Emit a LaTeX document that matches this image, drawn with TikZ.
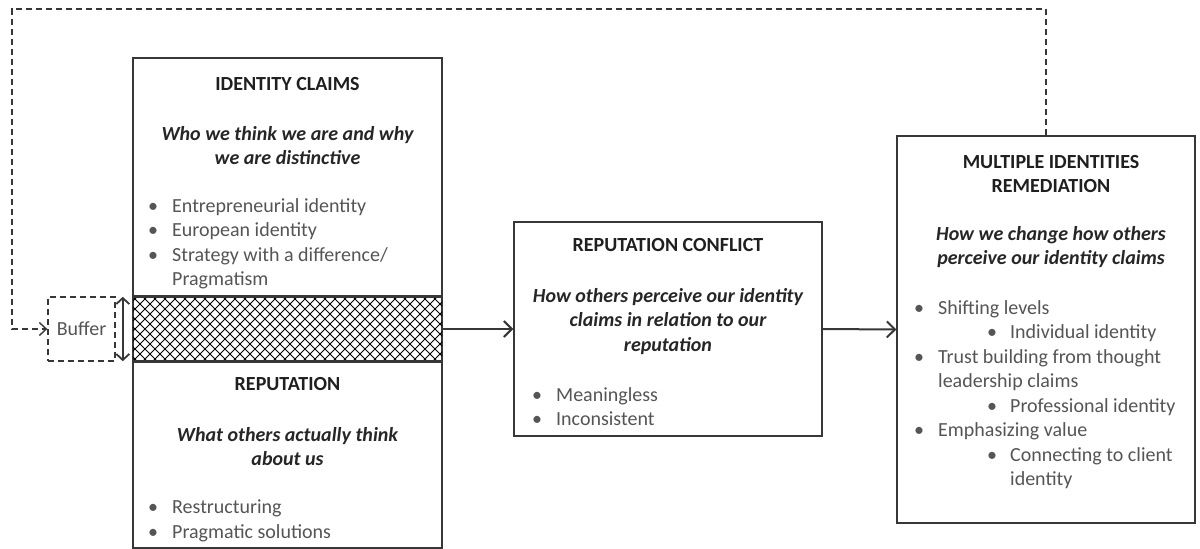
\documentclass[tikz,border=0pt]{standalone}
\usepackage{fontspec}
\setmainfont{Carlito}
\usetikzlibrary{arrows.meta,positioning,calc}
\definecolor{boxgray}{RGB}{55,55,55}
\definecolor{textgray}{RGB}{85,85,85}
\newcommand{\bul}[1]{\makebox[24pt][l]{\textbullet}#1}
\newcommand{\subbul}[1]{\hspace*{73pt}\makebox[23pt][l]{\textbullet}#1}

\begin{document}
\begin{tikzpicture}[x=1pt,y=-1pt,
  box/.style={draw=boxgray,line width=1.4pt,inner sep=0pt,fill=white},
  head/.style={font=\fontsize{20}{24.5}\selectfont\bfseries,text=black!88,inner sep=0pt,align=center,anchor=north},
  sub/.style={font=\fontsize{20}{24.5}\selectfont\bfseries\itshape,text=black!85,inner sep=0pt,align=center,anchor=north},
  list/.style={font=\fontsize{20}{24.5}\selectfont,text=textgray,inner sep=0pt,align=left,anchor=north west},
  arr/.style={draw=boxgray,line width=2pt,-{Straight Barb[length=8pt,width=16pt]}},
  dashline/.style={draw=boxgray,line width=1.4pt,dash pattern=on 6pt off 4pt,-{Straight Barb[length=7pt,width=13pt]}}]
  \useasboundingbox (0,0) rectangle (1200,549);

  \node[box,minimum width=309pt,minimum height=490pt] (idbox) at (287.5,303) {};
  \node[minimum width=309pt,minimum height=64pt,inner sep=0pt] (band) at (287.5,329) {};
  \begin{scope}
    \clip (band.north west) rectangle (band.south east);
    \foreach \k in {-7,...,31} {
      \draw[line width=0.9pt] ($(band.north west)+(\k*10,0)$) -- ++(64,64);
      \draw[line width=0.9pt] ($(band.south west)+(\k*10,0)$) -- ++(64,-64);
    }
  \end{scope}
  \draw[line width=2.8pt,boxgray] (band.north west) -- (band.north east);
  \draw[line width=2.8pt,boxgray] (band.south west) -- (band.south east);

  \node[head] (idhead) at (287.5,77) {IDENTITY CLAIMS};
  \node[sub] (idsub) at (287.5,126) {Who we think we are and why\\we are distinctive};
  \node[list] (idlist) at (148,198) {\bul{Entrepreneurial identity}\\\bul{European identity}\\\bul{Strategy with a difference/}\\\hspace*{24pt}Pragmatism};
  \node[head] (rephead) at (287.5,377) {REPUTATION};
  \node[sub] (repsub) at (287.5,427) {What others actually think\\about us};
  \node[list] (replist) at (148,500) {\bul{Restructuring}\\\bul{Pragmatic solutions}};

  \node[box,line width=1.3pt,dash pattern=on 6pt off 4pt,minimum width=67pt,minimum height=64pt,font=\fontsize{20}{24}\selectfont,text=textgray] (buffer) at (81.5,329) {Buffer};

  \node[box,minimum width=308pt,minimum height=214pt] (conflict) at (668,329) {};
  \node[head] (conhead) at (668,238) {REPUTATION CONFLICT};
  \node[sub] (consub) at (668,288) {How others perceive our identity\\claims in relation to our\\reputation};
  \node[list] (conlist) at (532,387) {\bul{Meaningless}\\\bul{Inconsistent}};

  \node[box,minimum width=298pt,minimum height=387pt] (remedy) at (1046,329.5) {};
  \node[head] (remhead) at (1051,155) {MULTIPLE IDENTITIES\\REMEDIATION};
  \node[sub] (remsub) at (1051,226) {How we change how others\\perceive our identity claims};
  \node[list] (remlist) at (914,300) {\bul{Shifting levels}\\\subbul{Individual identity}\\\bul{Trust building from thought}\\\hspace*{24pt}leadership claims\\\subbul{Professional identity}\\\bul{Emphasizing value}\\\subbul{Connecting to client}\\\hspace*{96pt}identity};

  \draw[arr] (idbox.east |- conflict.west) -- (conflict.west);
  \draw[arr] (conflict.east) -- (remedy.west);
  \coordinate (loop) at (12,9);
  \draw[dashline] (remedy.north) |- (loop) |- (buffer.west);
  \draw[draw=boxgray,line width=1.8pt,{Straight Barb[length=6pt,width=13pt]}-{Straight Barb[length=6pt,width=13pt]}] ([xshift=-10pt]band.north west) -- ([xshift=-10pt]band.south west);
\end{tikzpicture}
\end{document}
